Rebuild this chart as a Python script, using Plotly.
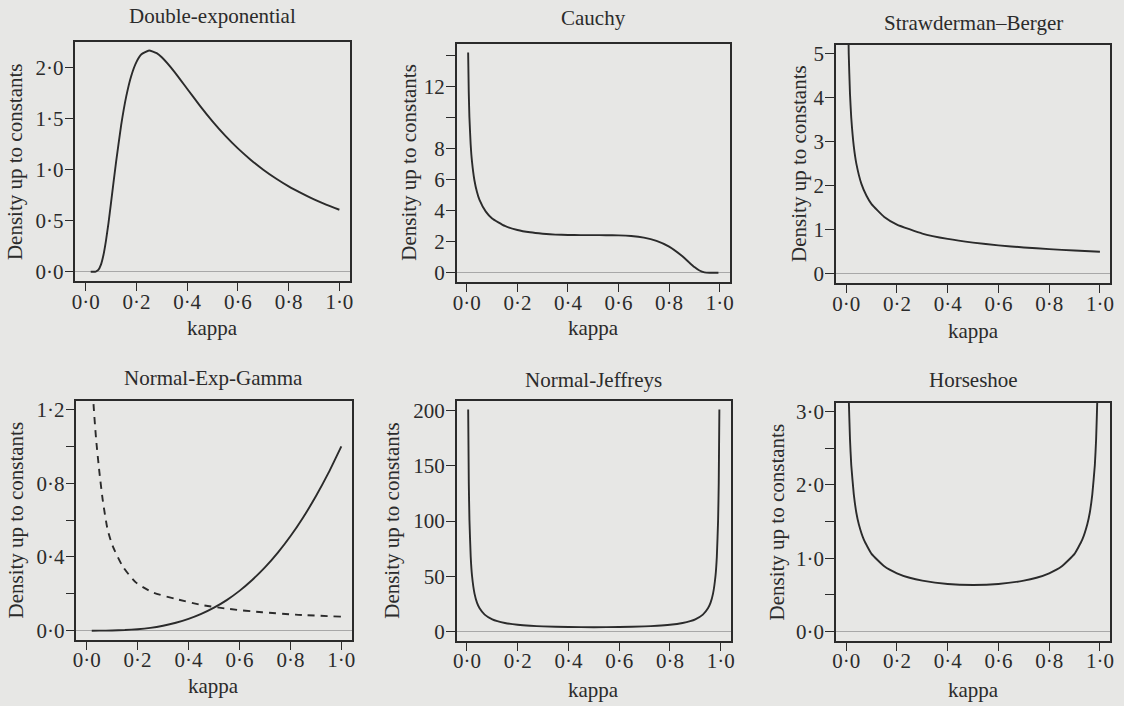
import plotly.graph_objects as go
from plotly.subplots import make_subplots

# densities of kappa (up to constants)
de_kappa = [0.02, 0.03, 0.04, 0.05, 0.06, 0.07, 0.08, 0.09, 0.10, 0.12, 0.14, 0.16, 0.18, 0.20,
            0.22, 0.25, 0.28, 0.30, 0.35, 0.40, 0.45, 0.50, 0.55, 0.60, 0.65, 0.70, 0.75, 0.80,
            0.85, 0.90, 0.95, 1.00]
de_dens = [0.0, 0.0001, 0.002, 0.018, 0.067, 0.161, 0.302, 0.477, 0.674, 1.076, 1.434, 1.716,
           1.919, 2.052, 2.128, 2.165, 2.139, 2.099, 1.957, 1.791, 1.626, 1.472, 1.332, 1.207,
           1.097, 0.999, 0.913, 0.836, 0.769, 0.708, 0.655, 0.607]

ca_kappa = [0.005, 0.0075, 0.01, 0.015, 0.02, 0.03, 0.04, 0.05, 0.075, 0.10, 0.15, 0.20, 0.25,
            0.30, 0.35, 0.40, 0.45, 0.50, 0.55, 0.60, 0.65, 0.70, 0.75, 0.80, 0.85, 0.88, 0.90,
            0.92, 0.94, 0.96, 0.98, 0.995]
ca_dens = [14.2, 11.63, 10.05, 8.29, 7.22, 5.95, 5.21, 4.70, 3.94, 3.50, 3.02, 2.76, 2.61, 2.52,
           2.46, 2.44, 2.43, 2.43, 2.42, 2.41, 2.37, 2.27, 2.06, 1.69, 1.10, 0.656, 0.370, 0.147,
           0.028, 0.001, 0.0, 0.0]

sb_kappa = [0.005, 0.01, 0.015, 0.02, 0.03, 0.04, 0.06, 0.08, 0.10, 0.15, 0.20, 0.30, 0.40,
            0.50, 0.60, 0.70, 0.80, 0.90, 1.00]
sb_dens = [7.07, 5.0, 4.08, 3.54, 2.89, 2.50, 2.04, 1.77, 1.58, 1.29, 1.118, 0.913, 0.791,
           0.707, 0.645, 0.598, 0.559, 0.527, 0.5]

neg_kappa = [0.02, 0.05, 0.10, 0.15, 0.20, 0.25, 0.30, 0.35, 0.40, 0.45, 0.50, 0.55, 0.60,
             0.65, 0.70, 0.75, 0.80, 0.85, 0.90, 0.95, 1.00]
neg_dens = [0.0, 0.0001, 0.001, 0.0034, 0.008, 0.0156, 0.027, 0.0429, 0.064, 0.0911, 0.125,
            0.166, 0.216, 0.275, 0.343, 0.422, 0.512, 0.614, 0.729, 0.857, 1.0]
neg2_kappa = [0.022, 0.026, 0.037, 0.05, 0.063, 0.082, 0.102, 0.141, 0.193, 0.259, 0.35, 0.454,
              0.559, 0.689, 0.82, 1.0]
neg2_dens = [1.44, 1.25, 1.04, 0.86, 0.71, 0.55, 0.46, 0.35, 0.262, 0.208, 0.172, 0.139, 0.118,
             0.100, 0.087, 0.076]

nj_kappa = [0.005, 0.0075, 0.01, 0.015, 0.02, 0.03, 0.04, 0.05, 0.07, 0.10, 0.12, 0.15, 0.20,
            0.25, 0.30, 0.40, 0.50, 0.60, 0.70, 0.75, 0.80, 0.85, 0.88, 0.90, 0.93, 0.95, 0.96,
            0.97, 0.98, 0.985, 0.99, 0.9925, 0.995]
nj_dens = [201.0, 134.3, 101.0, 67.7, 51.0, 34.4, 26.0, 21.1, 15.4, 11.1, 9.47, 7.84, 6.25,
           5.33, 4.76, 4.17, 4.00, 4.17, 4.76, 5.33, 6.25, 7.84, 9.47, 11.1, 15.4, 21.1, 26.0,
           34.4, 51.0, 67.7, 101.0, 134.3, 201.0]

hs_kappa = [0.005, 0.0075, 0.01, 0.015, 0.02, 0.03, 0.04, 0.05, 0.07, 0.10, 0.15, 0.20, 0.25,
            0.30, 0.40, 0.50, 0.60, 0.70, 0.75, 0.80, 0.85, 0.90, 0.93, 0.95, 0.96, 0.97, 0.98,
            0.985, 0.99, 0.9925, 0.995]
hs_dens = [4.51, 3.69, 3.20, 2.62, 2.27, 1.87, 1.62, 1.46, 1.25, 1.06, 0.891, 0.796, 0.735,
           0.695, 0.650, 0.637, 0.650, 0.695, 0.735, 0.796, 0.891, 1.06, 1.25, 1.46, 1.62, 1.87,
           2.27, 2.62, 3.20, 3.69, 4.51]

titles = ["Double-exponential", "Cauchy", "Strawderman\u2013Berger",
          "Normal-Exp-Gamma", "Normal-Jeffreys", "Horseshoe"]

x_ticks = [0, 0.2, 0.4, 0.6, 0.8, 1.0]
x_labels = ["0\u00b70", "0\u00b72", "0\u00b74", "0\u00b76", "0\u00b78", "1\u00b70"]

y_ticks = [
    [0, 0.5, 1.0, 1.5, 2.0],
    [0, 2, 4, 6, 8, 10, 12, 14],
    [0, 1, 2, 3, 4, 5],
    [0, 0.2, 0.4, 0.6, 0.8, 1.0, 1.2],
    [0, 50, 100, 150, 200],
    [0, 0.5, 1.0, 1.5, 2.0, 2.5, 3.0],
]
y_labels = [
    ["0\u00b70", "0\u00b75", "1\u00b70", "1\u00b75", "2\u00b70"],
    ["0", "2", "4", "6", "8", "", "12", ""],
    ["0", "1", "2", "3", "4", "5"],
    ["0\u00b70", "", "0\u00b74", "", "0\u00b78", "", "1\u00b72"],
    ["0", "50", "100", "150", "200"],
    ["0\u00b70", "", "1\u00b70", "", "2\u00b70", "", "3\u00b70"],
]
y_ranges = [[-0.0866, 2.2516], [-0.568, 14.77], [-0.2, 5.2],
            [-0.048, 1.248], [-8.04, 209.0], [-0.12, 3.12]]

# plot boxes in pixels: left, right, top, bottom
W, H = 1124, 706
boxes = [(72, 348, 39, 280), (456, 731, 41, 281), (838, 1114, 42, 282),
         (73, 350, 401, 642), (456, 732, 401, 643), (838, 1114, 403, 643)]
ytitle_x = [11, 408, 800, 12.5, 390, 778.5]
title_y = [13, 15, 20, 378, 380, 380]
kappa_y = [328, 328, 331, 689, 693, 693]

ink = "#2b2b2b"
paper = "#e7e7e5"
font = "Liberation Serif"

fig = make_subplots(rows=2, cols=3)

curves = [(de_kappa, de_dens), (ca_kappa, ca_dens), (sb_kappa, sb_dens),
          (neg_kappa, neg_dens), (nj_kappa, nj_dens), (hs_kappa, hs_dens)]
for i, (xs, ys) in enumerate(curves):
    r, c = i // 3 + 1, i % 3 + 1
    fig.add_trace(go.Scatter(x=xs, y=ys, mode="lines",
                             line=dict(color=ink, width=1.9, shape="spline", smoothing=0.4),
                             showlegend=False), row=r, col=c)
    if i == 3:
        fig.add_trace(go.Scatter(x=neg2_kappa, y=neg2_dens, mode="lines",
                                 line=dict(color=ink, width=1.9, dash="7px,6px",
                                           shape="spline", smoothing=0.6),
                                 showlegend=False), row=r, col=c)

annotations = []
for i in range(6):
    l, rr, t, b = boxes[i]
    n = "" if i == 0 else str(i + 1)
    fig.layout["xaxis" + n].update(
        domain=[l / W, rr / W], range=[-0.04, 1.04], tickvals=x_ticks, ticktext=x_labels,
        showline=True, mirror=True, linecolor=ink, linewidth=1.5, ticks="outside",
        ticklen=9, tickwidth=1.4, tickcolor=ink, showgrid=False, zeroline=False,
        ticklabelstandoff=-8, tickfont=dict(family=font, size=21, color=ink))
    fig.layout["yaxis" + n].update(
        domain=[1 - b / H, 1 - t / H], range=y_ranges[i], tickvals=y_ticks[i],
        ticktext=y_labels[i], showline=True, mirror=True, linecolor=ink, linewidth=1.5,
        ticks="outside", ticklen=9, tickwidth=1.4, tickcolor=ink, showgrid=False,
        zeroline=True, zerolinecolor="#a8a8a8", zerolinewidth=1, ticklabelstandoff=-3,
        tickfont=dict(family=font, size=21, color=ink))
    cx = (l + rr) / 2 / W
    annotations.append(dict(text=titles[i], x=cx, y=1 - title_y[i] / H, xref="paper",
                            yref="paper", showarrow=False, xanchor="center", yanchor="middle",
                            font=dict(family=font, size=21, color=ink)))
    annotations.append(dict(text="kappa", x=cx, y=1 - kappa_y[i] / H, xref="paper",
                            yref="paper", showarrow=False, xanchor="center", yanchor="middle",
                            font=dict(family=font, size=21, color=ink)))
    annotations.append(dict(text="Density up to constants", x=ytitle_x[i] / W,
                            y=1 - (t + b) / 2 / H, xref="paper", yref="paper",
                            showarrow=False, textangle=-90, xanchor="center",
                            yanchor="middle", font=dict(family=font, size=21, color=ink)))

fig.update_layout(width=W, height=H, margin=dict(l=0, r=0, t=0, b=0), autosize=False,
                  paper_bgcolor=paper, plot_bgcolor=paper, annotations=annotations)

# page has a default 8px body margin; drop it so the figure fills the window
fig.write_html("out.html", config={"displayModeBar": False},
               post_script="document.body.style.margin='0';"
               "document.body.style.overflow='hidden';"
               "document.body.style.background='" + paper + "';")
